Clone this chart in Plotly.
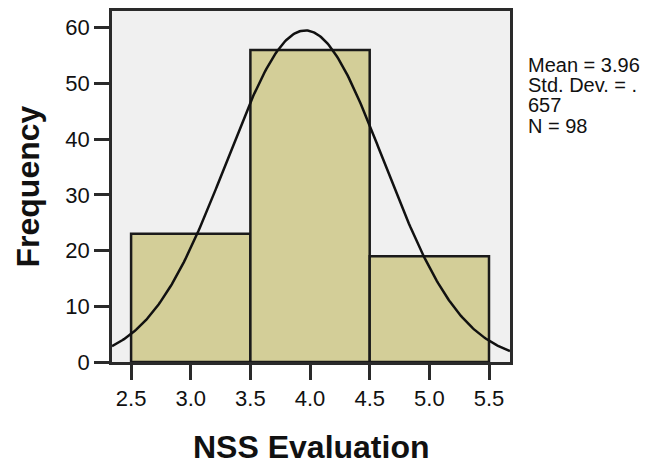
import numpy as np
import plotly.graph_objects as go

bin_edges = [2.5, 3.5, 4.5, 5.5]
counts = [23, 56, 19]
mean_val = 3.96
sd_val = 0.657
n_val = 98
x_ticks = [2.5, 3.0, 3.5, 4.0, 4.5, 5.0, 5.5]
y_ticks = [0, 10, 20, 30, 40, 50, 60]
stat_lines = [f"Mean = {mean_val:.2f}", "Std. Dev. = .", str(sd_val)[2:], f"N = {n_val}"]

centers = [(a + b) / 2 for a, b in zip(bin_edges[:-1], bin_edges[1:])]
widths = [b - a for a, b in zip(bin_edges[:-1], bin_edges[1:])]
bw = widths[0]

xr = [2.34, 5.676]
xc = np.linspace(xr[0], xr[1], 300)
yc = n_val * bw / (sd_val * np.sqrt(2 * np.pi)) * np.exp(-0.5 * ((xc - mean_val) / sd_val) ** 2)

font = "Liberation Sans, Arial, sans-serif"
L, R, T, B = 112, 144, 8, 102
W, H = 654, 464
pw, ph = W - L - R, H - T - B

fig = go.Figure()
fig.add_trace(go.Bar(x=centers, y=counts, width=widths,
                     marker=dict(color="#D3CE98", line=dict(color="#1a1a1a", width=2.5)),
                     hoverinfo="skip"))
fig.add_trace(go.Scatter(x=xc, y=yc, mode="lines", line=dict(color="#111111", width=2.5),
                         hoverinfo="skip"))

fig.update_layout(
    width=W, height=H,
    margin=dict(l=L, r=R, t=T, b=B),
    paper_bgcolor="white", plot_bgcolor="#F0F0F0",
    showlegend=False,
    font=dict(family=font, color="#111111"),
    xaxis=dict(range=xr, tickvals=x_ticks, ticktext=[f"{v:.1f}" for v in x_ticks],
               ticks="outside", ticklen=15, tickwidth=2.5, tickcolor="#2a2a2a",
               showline=True, linecolor="#2a2a2a", linewidth=2.5, mirror=True,
               showgrid=False, zeroline=False, tickfont=dict(size=22)),
    yaxis=dict(range=[0, 63], tickvals=y_ticks,
               ticks="outside", ticklen=15, tickwidth=2.5, tickcolor="#2a2a2a",
               showline=True, linecolor="#2a2a2a", linewidth=2.5, mirror=True,
               showgrid=False, zeroline=False, tickfont=dict(size=22)),
)

fig.add_annotation(xref="paper", yref="paper", x=(27 - L) / pw, y=(H - B - 185) / ph,
                   xanchor="center", yanchor="middle", textangle=-90, showarrow=False,
                   text="<b>Frequency</b>", font=dict(size=32, color="#111111"))
fig.add_annotation(xref="paper", yref="paper", x=(311 - L) / pw, y=(H - B - 448) / ph,
                   xanchor="center", yanchor="middle", showarrow=False,
                   text="<b>NSS Evaluation</b>", font=dict(size=32, color="#111111"))

for i, s in enumerate(stat_lines):
    yc_px = 62 + 20.5 * i
    fig.add_annotation(xref="paper", yref="paper", x=(526 - L) / pw, y=(H - B - yc_px) / ph,
                       xanchor="left", yanchor="middle", showarrow=False, align="left",
                       text=s, font=dict(size=20, color="#111111"))

fig.write_html("out.html")
